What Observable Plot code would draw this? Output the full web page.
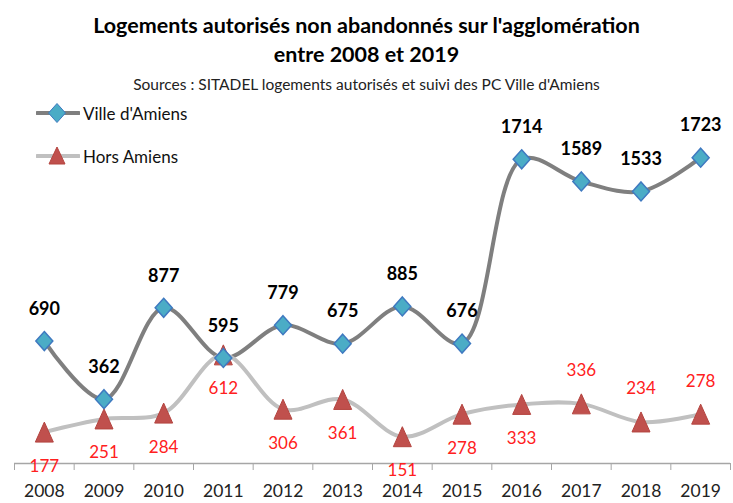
<!DOCTYPE html>
<html>
<head>
<meta charset="utf-8">
<script src="https://cdn.jsdelivr.net/npm/d3@7"></script>
<script src="https://cdn.jsdelivr.net/npm/@observablehq/plot@0.6"></script>
<style>
  body { margin: 0; background: #fff; width: 733px; height: 503px; position: relative; overflow: hidden; font-family: Lato, "Open Sans", sans-serif; }
  #title { position: absolute; top: 11px; left: 0; width: 733px; text-align: center; font-family: Lato, sans-serif; font-weight: bold; font-size: 21.5px; line-height: 29px; color: #000; }
  #subtitle { position: absolute; top: 75px; left: 0; width: 733px; text-align: center; font-family: Lato, sans-serif; font-size: 15.5px; color: #222; }
  #chart { position: absolute; top: 100px; left: 0; }
  #legend { position: absolute; top: 101px; left: 36px; font-family: Lato, sans-serif; font-size: 17px; color: #111; }
  .lg { display: flex; align-items: center; height: 24px; margin-bottom: 19px; }
  .lg svg { margin-right: 3px; }
</style>
</head>
<body>
<div id="title">Logements autorisés non abandonnés sur l'agglomération<br>entre 2008 et 2019</div>
<div id="subtitle">Sources : SITADEL logements autorisés et suivi des PC Ville d'Amiens</div>
<div id="chart"></div>
<div id="legend"></div>
<script>
const years = [2008, 2009, 2010, 2011, 2012, 2013, 2014, 2015, 2016, 2017, 2018, 2019];
const villeAmiens = [690, 362, 877, 595, 779, 675, 885, 676, 1714, 1589, 1533, 1723];
const horsAmiens = [177, 251, 284, 612, 306, 361, 151, 278, 333, 336, 234, 278];
const horsLabelAbove = [2017, 2018, 2019];
const seriesNames = ["Ville d'Amiens", "Hors Amiens"];

const villeRows = years.map((year, i) => ({year, value: villeAmiens[i]}));
const horsRows = years.map((year, i) => ({year, value: horsAmiens[i]}));
const bounds = [years[0] - 0.5, ...years.map(y => y + 0.5)];

const diamond = {draw(ctx) { ctx.moveTo(0, -9.5); ctx.lineTo(8.5, 0); ctx.lineTo(0, 9.5); ctx.lineTo(-8.5, 0); ctx.closePath(); }};
const triangle = {draw(ctx) { ctx.moveTo(0, -10); ctx.lineTo(9, 10); ctx.lineTo(-9, 10); ctx.closePath(); }};

const villeColor = "#7f7f7f", horsColor = "#c0c0c0";
const diamondFill = "#4bacc6", diamondStroke = "#3f79c0";
const triFill = "#c0504d", triStroke = "#b4443f";

const chart = Plot.plot({
  width: 733,
  height: 403,
  marginTop: 8,
  marginBottom: 40,
  marginLeft: 14,
  marginRight: 3,
  style: {fontFamily: "Lato, sans-serif", background: "transparent", overflow: "visible"},
  x: {type: "linear", domain: [years[0] - 0.5, years[years.length - 1] + 0.5], label: null},
  y: {domain: [0, 2000], axis: null},
  marks: [
    Plot.ruleY([0], {stroke: "#a6a6a6", strokeWidth: 1.3}),
    Plot.axisX(bounds, {tickSize: 7, tickFormat: () => "", stroke: "#a6a6a6", label: null}),
    Plot.axisX(years, {tickSize: 0, tickPadding: 21, tickFormat: d => String(d), fontSize: 17.5, fill: "#222", label: null}),
    Plot.line(villeRows, {x: "year", y: "value", curve: "catmull-rom", stroke: villeColor, strokeWidth: 4}),
    Plot.line(horsRows, {x: "year", y: "value", curve: "catmull-rom", stroke: horsColor, strokeWidth: 4}),
    Plot.dot(horsRows, {x: "year", y: "value", symbol: triangle, fill: triFill, stroke: triStroke, strokeWidth: 1}),
    Plot.dot(villeRows, {x: "year", y: "value", symbol: diamond, fill: diamondFill, stroke: diamondStroke, strokeWidth: 1.5}),
    Plot.text(villeRows, {x: "year", y: "value", text: d => String(d.value), dy: -32, fontSize: 18, fontWeight: "bold", fill: "#000"}),
    Plot.text(horsRows.filter(d => !horsLabelAbove.includes(d.year)), {x: "year", y: "value", text: d => String(d.value), dy: 34, fontSize: 17, fill: "#ff2020"}),
    Plot.text(horsRows.filter(d => horsLabelAbove.includes(d.year)), {x: "year", y: "value", text: d => String(d.value), dy: -33, fontSize: 17, fill: "#ff2020"})
  ]
});
document.getElementById("chart").appendChild(chart);

const legend = document.getElementById("legend");
const legendDefs = [
  {name: seriesNames[0], line: villeColor, path: "M21,2.5 L29.5,12 L21,21.5 L12.5,12 Z", fill: diamondFill, stroke: diamondStroke},
  {name: seriesNames[1], line: horsColor, path: "M21,3 L29,20 L13,20 Z", fill: triFill, stroke: triStroke}
];
for (const d of legendDefs) {
  const row = document.createElement("div");
  row.className = "lg";
  row.innerHTML = `<svg width="44" height="24"><line x1="1" x2="43" y1="12" y2="12" stroke="${d.line}" stroke-width="4" stroke-linecap="round"/><path d="${d.path}" fill="${d.fill}" stroke="${d.stroke}"/></svg><span>${d.name}</span>`;
  legend.appendChild(row);
}
</script>
</body>
</html>
